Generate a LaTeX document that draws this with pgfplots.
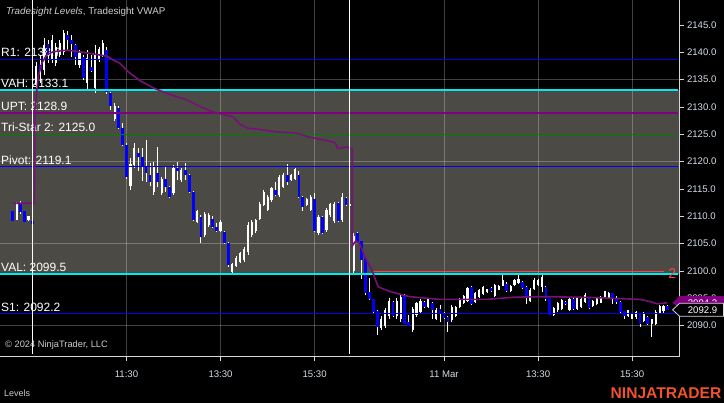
\documentclass[border=0pt]{standalone}
\usepackage{pgfplots}
\pgfplotsset{compat=1.18}
\usepackage{pgfplotstable}
\usepackage{fontspec}
\setmainfont{Liberation Sans}
\definecolor{vabg}{RGB}{76,74,68}
\definecolor{lvblue}{RGB}{0,0,245}
\definecolor{lvcyan}{RGB}{0,235,235}
\definecolor{lvgreen}{RGB}{0,128,0}
\definecolor{lvpurple}{RGB}{128,0,128}
\definecolor{vwapc}{RGB}{118,18,118}
\definecolor{lvred}{RGB}{255,70,70}
\definecolor{axcol}{RGB}{215,215,215}
\definecolor{tickcol}{RGB}{212,220,230}
\definecolor{titlecol}{RGB}{205,205,205}
\definecolor{ntorange}{RGB}{240,82,45}
\definecolor{downc}{RGB}{0,0,255}
\tikzset{
  gridst/.style={white, opacity=0.25, line width=0.8pt},
  lvl/.style={line width=1.4pt},
  lbl/.style={anchor=base west, inner sep=0pt, text=white, font=\fontsize{12}{14}\selectfont, xshift=1pt, yshift=2.5pt},
}
\pgfplotsset{
  candle/.style={draw=none, no markers, forget plot,
    /pgfplots/error bars/y dir=both, /pgfplots/error bars/y explicit,
    /pgfplots/error bars/error mark=none},
}

% bar index n: n=1 is the 9:35 bar of day 1, n=82 the 9:35 bar of day 2
\pgfplotstableread{
n o h l c
-5 2110.9 2111.0 2109.1 2109.2
-4 2109.4 2112.7 2109.3 2112.5
-3 2112.4 2112.8 2110.5 2110.8
-2 2110.9 2111.0 2108.9 2109.0
-1 2109.3 2110.1 2109.2 2110.0
0 2109.1 2109.2 2108.5 2108.6
1 2134.0 2138.3 2133.1 2137.5
2 2137.7 2139.5 2134.4 2136.8
3 2136.8 2142.6 2135.8 2141.3
4 2141.6 2142.3 2138.0 2139.5
5 2138.6 2143.2 2138.0 2142.2
6 2138.0 2141.7 2137.5 2141.0
7 2139.5 2142.2 2139.1 2141.8
8 2140.0 2144.1 2139.5 2143.5
9 2143.2 2143.9 2140.4 2142.2
10 2142.2 2143.1 2139.2 2141.6
11 2141.3 2141.6 2137.7 2139.2
12 2137.6 2140.4 2137.1 2139.9
13 2139.1 2139.5 2134.9 2135.3
14 2134.4 2140.4 2133.1 2139.0
15 2137.4 2139.5 2136.4 2136.6
16 2133.5 2141.3 2132.5 2139.5
17 2138.6 2141.0 2138.3 2140.6
18 2139.5 2142.2 2139.2 2141.8
19 2140.4 2141.0 2132.3 2132.8
20 2132.5 2132.8 2129.4 2130.2
21 2127.8 2130.7 2127.5 2130.2
22 2129.8 2130.1 2125.9 2126.1
23 2126.1 2127.1 2122.8 2123.0
24 2123.0 2123.4 2116.9 2117.2
25 2115.5 2120.6 2114.8 2119.5
26 2119.3 2123.4 2118.8 2122.5
27 2121.6 2122.5 2118.2 2120.8
28 2120.8 2122.5 2116.5 2119.1
29 2119.1 2124.0 2116.3 2117.9
30 2117.6 2119.7 2115.5 2116.2
31 2114.5 2120.0 2113.9 2119.0
32 2117.9 2122.7 2115.4 2116.3
33 2114.3 2117.2 2113.9 2116.8
34 2116.8 2119.1 2114.5 2115.3
35 2115.3 2115.5 2113.4 2113.6
36 2114.3 2119.4 2113.9 2118.8
37 2118.8 2120.0 2116.6 2118.3
38 2116.6 2118.8 2116.3 2118.5
39 2118.5 2119.7 2116.6 2117.6
40 2117.6 2117.8 2114.3 2114.5
41 2114.5 2114.7 2109.1 2109.3
42 2109.0 2111.2 2108.7 2110.9
43 2109.9 2110.2 2105.2 2106.3
44 2106.6 2110.8 2106.3 2110.5
45 2108.4 2110.6 2108.1 2110.3
46 2109.5 2110.0 2107.9 2108.1
47 2108.1 2108.7 2107.1 2107.4
48 2107.4 2109.3 2107.2 2109.0
49 2107.2 2107.4 2104.9 2105.1
50 2105.2 2105.4 2100.8 2101.1
51 2099.9 2101.4 2099.6 2101.2
52 2101.0 2102.7 2100.8 2102.4
53 2101.6 2103.5 2101.4 2103.3
54 2102.0 2104.3 2101.7 2104.0
55 2103.4 2109.0 2102.9 2108.4
56 2106.6 2109.3 2106.3 2109.0
57 2107.3 2109.6 2107.0 2109.3
58 2109.6 2112.7 2109.3 2112.3
59 2112.1 2114.8 2111.8 2114.5
60 2111.2 2113.9 2110.9 2113.6
61 2113.0 2115.4 2112.7 2115.1
62 2114.8 2116.3 2113.7 2113.9
63 2114.0 2117.6 2113.6 2117.2
64 2115.4 2118.0 2115.1 2117.6
65 2117.6 2119.6 2115.7 2116.3
66 2116.6 2117.8 2116.5 2117.6
67 2116.8 2118.8 2116.6 2118.6
68 2117.6 2118.2 2113.4 2113.6
69 2113.6 2113.7 2110.9 2111.8
70 2112.0 2113.3 2111.8 2113.1
71 2111.2 2113.9 2110.9 2113.6
72 2113.1 2114.2 2107.2 2107.4
73 2106.9 2110.2 2106.6 2109.9
74 2109.8 2110.0 2106.8 2107.0
75 2107.5 2111.5 2107.2 2111.1
76 2110.2 2112.5 2109.9 2112.2
77 2109.1 2112.7 2108.7 2112.3
78 2112.4 2112.6 2109.0 2109.2
79 2109.4 2114.3 2109.0 2113.5
80 2113.3 2113.6 2111.9 2112.1
81 2112.0 2112.4 2111.9 2112.3
82 2100.0 2106.9 2099.6 2106.5
83 2106.9 2107.2 2105.2 2105.4
84 2105.4 2105.5 2098.5 2102.0
85 2102.3 2102.5 2095.7 2095.9
86 2096.2 2098.7 2094.7 2094.8
87 2094.8 2094.9 2092.4 2092.6
88 2092.7 2092.8 2088.3 2089.8
89 2089.5 2091.7 2089.2 2091.3
90 2089.9 2093.2 2089.5 2092.8
91 2091.8 2095.0 2091.3 2094.6
92 2094.4 2094.6 2091.5 2091.7
93 2091.7 2095.0 2091.3 2094.6
94 2091.2 2095.7 2090.7 2095.2
95 2095.6 2095.8 2090.3 2090.4
96 2090.7 2092.0 2089.9 2090.0
97 2089.3 2093.5 2088.9 2093.0
98 2091.9 2094.4 2091.6 2094.1
99 2092.5 2094.8 2092.3 2094.6
100 2094.4 2094.6 2093.3 2093.5
101 2093.4 2095.0 2093.2 2094.8
102 2094.2 2094.4 2091.2 2092.9
103 2091.3 2093.2 2091.0 2092.9
104 2093.0 2093.8 2090.7 2092.1
105 2092.3 2092.5 2091.3 2091.5
106 2091.6 2091.8 2088.9 2090.7
107 2091.0 2093.8 2090.7 2093.5
108 2091.8 2093.6 2091.6 2093.4
109 2093.4 2095.0 2093.2 2094.8
110 2094.1 2095.6 2094.0 2095.4
111 2094.6 2097.1 2094.4 2096.9
112 2097.0 2097.2 2093.8 2094.0
113 2094.4 2096.2 2094.2 2096.0
114 2095.2 2096.8 2095.0 2096.6
115 2095.8 2097.3 2095.6 2097.1
116 2096.1 2096.8 2096.0 2096.7
117 2096.9 2097.0 2096.2 2096.4
118 2095.5 2097.6 2095.3 2097.4
119 2096.6 2097.4 2096.5 2097.3
120 2097.3 2099.6 2097.2 2098.3
121 2097.6 2098.0 2096.2 2096.4
122 2096.3 2097.4 2096.2 2097.3
123 2097.4 2098.5 2097.3 2098.4
124 2097.8 2099.3 2097.6 2098.6
125 2098.0 2098.2 2096.7 2096.9
126 2097.1 2097.2 2094.0 2095.0
127 2094.6 2096.8 2094.4 2096.6
128 2096.7 2098.7 2096.5 2098.4
129 2097.4 2098.5 2097.3 2098.3
130 2097.0 2099.3 2096.2 2099.0
131 2097.0 2097.2 2094.6 2094.8
132 2095.0 2095.1 2091.9 2092.0
133 2092.0 2093.5 2091.8 2093.3
134 2092.8 2094.4 2092.6 2094.2
135 2093.1 2094.9 2092.9 2094.7
136 2094.4 2094.6 2093.8 2094.0
137 2092.8 2095.0 2092.6 2094.8
138 2094.9 2095.0 2092.9 2093.0
139 2093.1 2095.3 2092.9 2095.1
140 2093.4 2095.0 2093.2 2094.8
141 2094.3 2095.9 2094.1 2095.7
142 2095.0 2095.2 2093.0 2093.2
143 2093.6 2094.7 2093.5 2094.6
144 2093.9 2095.3 2093.8 2095.2
145 2094.2 2095.4 2094.1 2095.3
146 2095.1 2096.4 2095.0 2096.3
147 2094.9 2096.1 2094.8 2096.0
148 2095.9 2096.0 2094.0 2095.0
149 2095.0 2095.4 2094.0 2094.4
150 2094.4 2094.5 2092.4 2092.6
151 2092.6 2092.7 2091.2 2091.7
152 2091.8 2092.9 2091.6 2092.8
153 2091.3 2092.3 2091.2 2092.2
154 2091.5 2092.6 2091.3 2092.5
155 2092.3 2092.4 2089.8 2090.3
156 2090.9 2092.6 2090.7 2092.4
157 2091.6 2091.8 2090.2 2090.4
158 2090.4 2091.3 2088.0 2091.2
159 2090.4 2092.9 2090.1 2092.6
160 2092.4 2093.8 2092.3 2093.6
161 2092.6 2093.8 2092.4 2093.6
162 2093.6 2093.7 2092.8 2092.9
}\bars

\pgfplotstableread{
n v
-5 2112.4
0.5 2112.4
0.6 2129.5
1.5 2135.6
2.4 2138.0
3.6 2139.5
5.3 2140.1
8.75 2140.4
12.1 2140.1
17.2 2139.5
19.0 2139.3
20.6 2138.6
22.3 2138.0
24.5 2136.4
27.5 2134.8
30.8 2133.5
35.0 2132.3
39.4 2131.3
43.0 2130.0
46.1 2129.1
51.2 2128.2
53.0 2126.8
55.0 2126.1
58.0 2125.9
61.4 2125.5
67.5 2125.2
70.0 2124.6
74.1 2124.0
77.2 2123.5
77.9 2122.4
80.3 2122.7
81.0 2122.4
81.6 2122.4
81.6 2104.6
82.5 2105.5
83.5 2105.0
84.8 2102.6
86.6 2100.2
88.2 2097.1
91.0 2096.3
94.5 2095.6
96.3 2095.3
104.0 2094.8
115.9 2094.8
122.7 2095.2
129.5 2095.3
139.7 2095.2
144.8 2095.1
155.0 2094.8
157.6 2094.4
159.4 2094.0
162.0 2094.2
}\vwap

\begin{document}
\begin{tikzpicture}[x=1pt,y=1pt]
\fill[black] (0,0) rectangle (724,403);
\begin{axis}[
  at={(0pt,403pt)}, anchor=north west,
  scale only axis, width=679pt, height=357pt,
  xmin=-8.27, xmax=164.95, ymin=2084.27, ymax=2149.57,
  clip=false,
  axis x line*=bottom, axis y line*=right,
  axis line style={draw=axcol, line width=1pt},
  tick align=outside, major tick length=4.5pt,
  tick style={axcol, line width=0.8pt},
  xtick={24,48,72,105,129,153},
  xticklabels={11:30,13:30,15:30,11 Mar,13:30,15:30},
  ytick={2090,2095,...,2145},
  scaled y ticks=false,
  ticklabel style={font=\fontsize{9.6}{11}\selectfont, text=tickcol},
  xticklabel style={yshift=-5.5pt},
  /pgf/number format/fixed, /pgf/number format/fixed zerofill,
  /pgf/number format/precision=1, /pgf/number format/1000 sep={},
  /pgf/number format/assume math mode=true,
]
% value area
\addplot[fill=vabg, draw=none, forget plot] coordinates {(-8.27,2099.5) (164.95,2099.5) (164.95,2133.1) (-8.27,2133.1)} -- cycle;
% grid
\addplot[gridst, forget plot] coordinates {(24,2084.27) (24,2149.57)};
\addplot[gridst, forget plot] coordinates {(48,2084.27) (48,2149.57)};
\addplot[gridst, forget plot] coordinates {(72,2084.27) (72,2149.57)};
\addplot[gridst, forget plot] coordinates {(105,2084.27) (105,2149.57)};
\addplot[gridst, forget plot] coordinates {(129,2084.27) (129,2149.57)};
\addplot[gridst, forget plot] coordinates {(153,2084.27) (153,2149.57)};
\addplot[gridst, forget plot] coordinates {(-8.27,2090) (164.95,2090)};
\addplot[gridst, forget plot] coordinates {(-8.27,2105) (164.95,2105)};
\addplot[gridst, forget plot] coordinates {(-8.27,2120) (164.95,2120)};
\addplot[gridst, forget plot] coordinates {(-8.27,2135) (164.95,2135)};
% level labels
\node[lbl] at (axis cs:-8.27,2138.7) {R1: 2138.7};
\node[lbl] at (axis cs:-8.27,2133.1) {VAH: 2133.1};
\node[lbl] at (axis cs:-8.27,2128.9) {UPT: 2128.9};
\node[lbl] at (axis cs:-8.27,2125.0) {Tri-Star 2: 2125.0};
\node[lbl] at (axis cs:-8.27,2119.1) {Pivot: 2119.1};
\node[lbl] at (axis cs:-8.27,2099.5) {VAL: 2099.5};
\node[lbl] at (axis cs:-8.27,2092.2) {S1: 2092.2};
% wicks
\addplot[candle, /pgfplots/error bars/error bar style={draw=white, line width=1pt}]
  table[x=n, y expr={(\thisrow{h}+\thisrow{l})/2}, y error expr={(\thisrow{h}-\thisrow{l})/2}] {\bars};
% up bodies
\addplot[candle, /pgfplots/error bars/error bar style={draw=white, line width=2.2pt}]
  table[x=n, y expr={\thisrow{c}>=\thisrow{o} ? (\thisrow{o}+\thisrow{c})/2 : nan}, y error expr={abs(\thisrow{c}-\thisrow{o})/2}] {\bars};
% down bodies
\addplot[candle, /pgfplots/error bars/error bar style={draw=downc, line width=2.8pt}]
  table[x=n, y expr={\thisrow{c}<\thisrow{o} ? (\thisrow{o}+\thisrow{c})/2 : nan}, y error expr={abs(\thisrow{c}-\thisrow{o})/2}] {\bars};
% level lines
\addplot[lvl, lvblue, forget plot] coordinates {(-8.27,2138.7) (164.6,2138.7)};
\addplot[lvl, lvcyan, line width=1.6pt, forget plot] coordinates {(-8.27,2133.1) (164.6,2133.1)};
\addplot[lvl, lvpurple, line width=1.2pt, forget plot] coordinates {(-8.27,2128.9) (164.6,2128.9)};
\addplot[lvl, lvgreen, forget plot] coordinates {(-8.27,2125.0) (164.6,2125.0)};
\addplot[lvl, lvblue, forget plot] coordinates {(-8.27,2119.1) (164.6,2119.1)};
\addplot[lvl, lvcyan, line width=1.6pt, forget plot] coordinates {(-8.27,2099.5) (164.6,2099.5)};
\addplot[lvl, lvblue, forget plot] coordinates {(-8.27,2092.2) (164.6,2092.2)};
\addplot[lvl, lvred, line width=1.3pt, forget plot] coordinates {(87,2099.85) (161.1,2099.85)};
\node[anchor=west, inner sep=0pt, text=lvred, font=\fontsize{14}{16}\selectfont] at (axis cs:162.2,2099.6) {2};
% VWAP
\addplot[vwapc, line width=1.6pt, forget plot] table[x=n, y=v] {\vwap};
% session breaks
\addplot[white, line width=1.3pt, forget plot] coordinates {(0,2084.8) (0,2149.57)};
\addplot[white, line width=1.3pt, forget plot] coordinates {(80.85,2084.8) (80.85,2149.57)};
% price tags
\coordinate (P) at (axis cs:165.1,2094.2);
\coordinate (T) at (axis cs:165.1,2092.9);
\fill[lvpurple] ([xshift=-7pt]P) -- ([yshift=6.5pt]P) -- ([xshift=45pt,yshift=6.5pt]P) -- ([xshift=45pt,yshift=-6.5pt]P) -- ([yshift=-6.5pt]P) -- cycle;
\begin{scope}
\clip ([yshift=1.5pt]P) rectangle ([xshift=45pt,yshift=6.5pt]P);
\node[text=white, font=\fontsize{9.6}{11}\selectfont] at ([xshift=23pt]P) {2094.2};
\end{scope}
\filldraw[fill=black, draw=axcol, line width=0.8pt] ([xshift=-7pt]T) -- ([yshift=6.5pt]T) -- ([xshift=44pt,yshift=6.5pt]T) -- ([xshift=44pt,yshift=-6.5pt]T) -- ([yshift=-6.5pt]T) -- cycle;
\node[text=white, font=\fontsize{9.6}{11}\selectfont] at ([xshift=23pt]T) {2092.9};
\end{axis}
\node[anchor=base west, inner sep=0pt, text=titlecol, font=\fontsize{9.8}{11}\selectfont] at (6,388) {\itshape Tradesight Levels\upshape, Tradesight VWAP};
\node[anchor=base west, inner sep=0pt, text=titlecol, font=\fontsize{9.3}{11}\selectfont] at (5,55) {© 2024 NinjaTrader, LLC};
\node[anchor=base west, inner sep=0pt, text=titlecol, font=\fontsize{9}{11}\selectfont] at (4,6.5) {Levels};
\node[anchor=base east, inner sep=0pt, text=ntorange, font=\fontsize{15.6}{18}\bfseries] at (721.5,4.8) {NINJATRADER};
\pgfresetboundingbox
\path[use as bounding box] (0,0) rectangle (724,403);
\end{tikzpicture}
\end{document}
